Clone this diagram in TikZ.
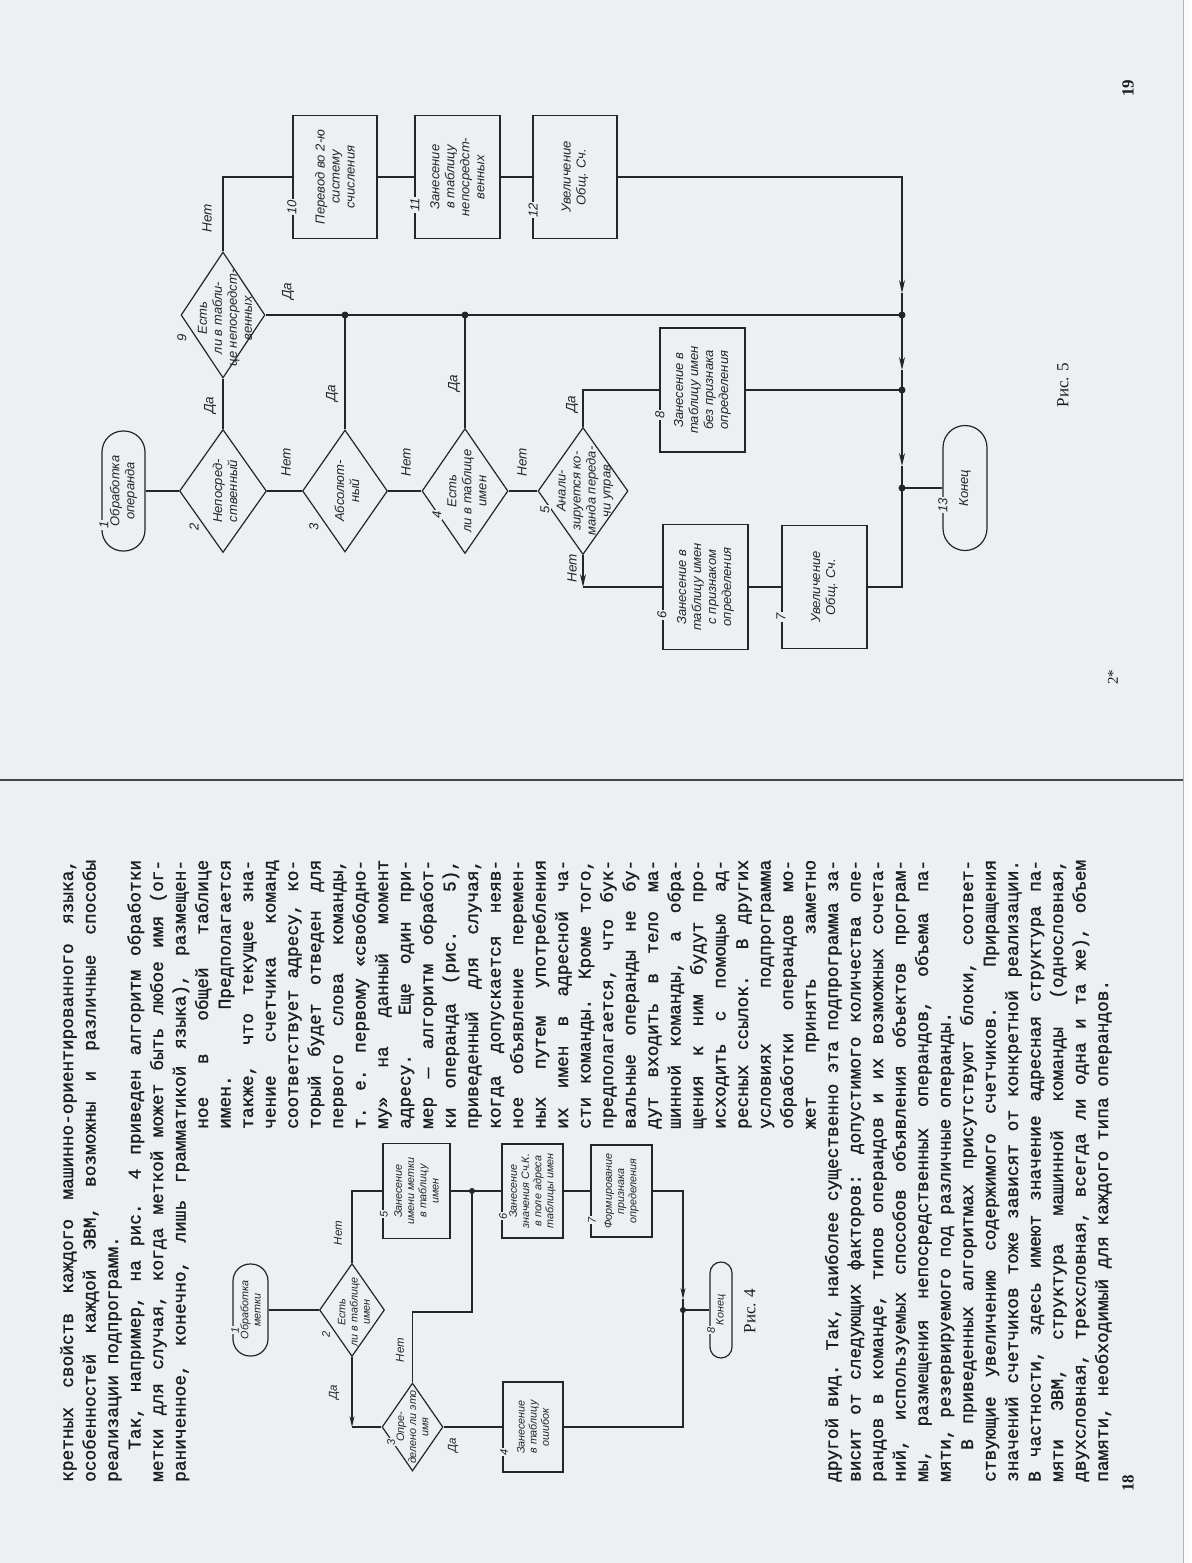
\documentclass[tikz,border=0pt]{standalone}
\usepackage{fontspec}
\setmainfont{Liberation Serif}
\newfontfamily\typewriter[FakeBold=1.3]{Liberation Mono}
\newfontfamily\drafting{Liberation Sans}
\usetikzlibrary{shapes.geometric,arrows.meta}

\definecolor{paper}{RGB}{237,240,242}
\definecolor{ink}{RGB}{36,36,42}
\definecolor{printink}{RGB}{28,28,34}

% one justified typewriter line / last line of a paragraph
\newcommand\jline[1]{\hbox to\linewidth{#1}}
\newcommand\eline[1]{\hbox to\linewidth{#1\hfil}}
\newcommand\bodyfont{\typewriter\fontsize{17.8}{22.5}\selectfont
  \fontdimen3\font=9pt\fontdimen4\font=1.5pt}

\begin{document}
\begin{tikzpicture}[x=1pt,y=-1pt]
\tikzset{
  wire/.style={draw=ink,line width=1.2pt},
  wire4/.style={draw=ink,line width=1.05pt},
  arr5/.style={-{Stealth[length=13pt,width=6pt]}},
  arr4/.style={-{Stealth[length=11pt,width=5pt]}},
  bx/.style 2 args={rotate=90,draw=ink,line width=1.2pt,rectangle,inner sep=0,
    minimum width=#1,minimum height=#2},
  dia/.style 2 args={rotate=90,draw=ink,line width=1.2pt,diamond,inner sep=0,
    minimum width=#1,minimum height=#2},
  txt5/.style={rotate=90,align=center,inner sep=0,text=ink,
    font=\drafting\itshape\fontsize{13}{15}\selectfont},
  txt4/.style={rotate=90,align=center,inner sep=0,text=ink,
    font=\drafting\itshape\fontsize{10.8}{12.2}\selectfont},
  num5/.style={rotate=90,fill=paper,inner sep=1pt,text=ink,
    font=\drafting\itshape\fontsize{13}{14}\selectfont},
  num4/.style={rotate=90,fill=paper,inner sep=1pt,text=ink,
    font=\drafting\itshape\fontsize{11}{12}\selectfont},
  lab5/.style={rotate=90,inner sep=0,text=ink,
    font=\drafting\itshape\fontsize{13.5}{15}\selectfont},
  lab4/.style={rotate=90,inner sep=0,text=ink,
    font=\drafting\itshape\fontsize{11.5}{13}\selectfont},
  body/.style={rotate=90,anchor=base west,inner sep=0,text=printink},
  caption/.style={rotate=90,inner sep=0,text=printink,
    font=\fontsize{17}{20}\selectfont},
}
\useasboundingbox (0,0) rectangle (1191,1563);
\fill[paper] (0,0) rectangle (1191,1563);
% page edge and binding line
\fill[white!75!paper] (1183,0) rectangle (1191,1563);
\draw[ink!35,line width=0.8pt] (1183,0) -- (1183,1563);
\draw[ink!85,line width=2pt] (0,780) -- (1183,780);

% ---------------- page 18: text ----------------
\node[body] (txa) at (73,1482) {\begin{minipage}[t]{622pt}\bodyfont
\jline{кретных свойств каждого машинно-ориентированного языка,}
\jline{особенностей каждой ЭВМ, возможны и различные способы}
\eline{реализации подпрограмм.}
\jline{\kern32pt Так, например, на рис. 4 приведен алгоритм обработки}
\jline{метки для случая, когда меткой может быть любое имя (ог-}
\jline{раниченное, конечно, лишь грамматикой языка), размещен-}
\end{minipage}};

\node[body] (txb) at (208,1129) {\begin{minipage}[t]{269pt}\bodyfont
\jline{ное в общей таблице}
\jline{имен. Предполагается}
\jline{также, что текущее зна-}
\jline{чение счетчика команд}
\jline{соответствует адресу, ко-}
\jline{торый будет отведен для}
\jline{первого слова команды,}
\jline{т. е. первому «свободно-}
\jline{му» на данный момент}
\jline{адресу. Еще один при-}
\jline{мер — алгоритм обработ-}
\jline{ки операнда (рис. 5),}
\jline{приведенный для случая,}
\jline{когда допускается неяв-}
\jline{ное объявление перемен-}
\jline{ных путем употребления}
\jline{их имен в адресной ча-}
\jline{сти команды. Кроме того,}
\jline{предполагается, что бук-}
\jline{вальные операнды не бу-}
\jline{дут входить в тело ма-}
\jline{шинной команды, а обра-}
\jline{щения к ним будут про-}
\jline{исходить с помощью ад-}
\jline{ресных ссылок. В других}
\jline{условиях подпрограмма}
\jline{обработки операндов мо-}
\jline{жет принять заметно}
\end{minipage}};

\node[body] (txc) at (838,1482) {\begin{minipage}[t]{622pt}\bodyfont
\jline{другой вид. Так, наиболее существенно эта подпрограмма за-}
\jline{висит от следующих факторов: допустимого количества опе-}
\jline{рандов в команде, типов операндов и их возможных сочета-}
\jline{ний, используемых способов объявления объектов програм-}
\jline{мы, размещения непосредственных операндов, объема па-}
\eline{мяти, резервируемого под различные операнды.}
\jline{\kern32pt В приведенных алгоритмах присутствуют блоки, соответ-}
\jline{ствующие увеличению содержимого счетчиков. Приращения}
\jline{значений счетчиков тоже зависят от конкретной реализации.}
\jline{В частности, здесь имеют значение адресная структура па-}
\jline{мяти ЭВМ, структура машинной команды (однословная,}
\jline{двухсловная, трехсловная, всегда ли одна и та же), объем}
\eline{памяти, необходимый для каждого типа операндов.}
\end{minipage}};

\node[caption,font=\bfseries\fontsize{17}{20}\selectfont] (pg18) at (1128,1483) {18};

% ---------------- Fig. 4: label processing ----------------
\node[bx={92}{35},rounded corners=17pt] (f1) at (250.5,1310) {};
\node[dia={93}{65}] (f2) at (352,1310) {};
\node[bx={95}{67}] (f5) at (416.5,1191) {};
\node[bx={94}{61}] (f6) at (532.5,1191) {};
\node[bx={92}{61}] (f7) at (621.5,1191) {};
\node[dia={88}{61}] (f3) at (412.5,1427) {};
\node[bx={90}{60}] (f4) at (533,1427) {};
\node[bx={96}{22},rounded corners=11pt] (f8) at (721,1310) {};

\node[txt4] (f1t) at (f1) {Обработка\\метки};
\node[txt4] (f2t) at (354,1312) {Есть\\ли в таблице\\имен};
\node[txt4] (f5t) at (f5) {Занесение\\имени метки\\в таблицу\\имен};
\node[txt4] (f6t) at (f6) {Занесение\\значения Сч.К.\\в поле адреса\\таблицы имен};
\node[txt4] (f7t) at (f7) {Формирование\\признака\\определения};
\node[txt4] (f3t) at (f3) {Опре-\\делено ли это\\имя};
\node[txt4] (f4t) at (f4) {Занесение\\в таблицу\\ошибок};
\node[txt4] (f8t) at (f8) {Конец};

\coordinate (fj1) at (472,1191);
\coordinate (fa1) at (683,1299);
\coordinate (fj2) at (683,1310);
\coordinate (fc3) at (352,1427);
\coordinate (fk2) at (472,1312);

\draw[wire4] (f1.south) -- (f2.north);
\draw[wire4] (f2.east) |- (f5.north);
\draw[wire4] (f5.south) -- (fj1) -- (f6.north);
\draw[wire4] (f6.south) -- (f7.north);
\draw[wire4,arr4] (f7.south) -| (fa1);
\draw[wire4] (fa1) -- (fj2) -- (f8.north);
\draw[wire4,arr4] (f2.west) -- (fc3);
\draw[wire4] (fc3) -- (f3.north);
\draw[wire4] (f3.east) |- (fk2) -- (fj1);
\draw[wire4] (f3.south) -- (f4.north);
\draw[wire4] (f4.south) -| (fj2);
\fill[ink] (fj1) circle (3pt);
\fill[ink] (fj2) circle (3pt);

\node[num4] (fn1) at (235,1330) {1};
\node[num4] (fn2) at (326,1334) {2};
\node[num4] (fn5) at (384,1214) {5};
\node[num4] (fn6) at (503,1216) {6};
\node[num4] (fn7) at (592,1220) {7};
\node[num4] (fn3) at (391,1442) {3};
\node[num4] (fn4) at (504,1452) {4};
\node[num4] (fn8) at (711,1330) {8};

\node[lab4] (fl1) at (338,1233) {Нет};
\node[lab4] (fl2) at (334,1392) {Да};
\node[lab4] (fl3) at (400,1350) {Нет};
\node[lab4] (fl4) at (453,1445) {Да};

\node[caption] (cap4) at (750,1311) {Рис. 4};

% ---------------- Fig. 5: operand processing ----------------
\node[bx={120}{43},rounded corners=21pt] (t1) at (123.5,491) {};
\node[dia={123}{87}] (d2) at (223,491) {};
\node[dia={122}{85}] (d3) at (345,491) {};
\node[dia={125}{86}] (d4) at (465,491) {};
\node[dia={127}{90}] (d5) at (583,491) {};
\node[dia={126}{84}] (d9) at (223,315) {};
\node[bx={123}{84}] (b10) at (335,177) {};
\node[bx={123}{85}] (b11) at (457.5,177) {};
\node[bx={123}{84}] (b12) at (575,177) {};
\node[bx={124}{85}] (b8) at (702.5,390) {};
\node[bx={125}{85}] (b6) at (705.5,587) {};
\node[bx={123}{85}] (b7) at (824.5,587) {};
\node[bx={125}{44},rounded corners=22pt] (t13) at (965,488) {};

\node[txt5] (t1t) at (t1) {Обработка\\операнда};
\node[txt5] (d2t) at (225,491) {Непосред-\\ственный};
\node[txt5] (d3t) at (347,491) {Абсолют-\\ный};
\node[txt5] (d4t) at (467,491) {Есть\\ли в таблице\\имен};
\node[txt5] (d5t) at (585,491) {Анали-\\зируется ко-\\манда переда-\\чи управ};
\node[txt5] (d9t) at (225,318) {Есть\\ли в табли-\\це непосредст-\\венных};
\node[txt5] (b10t) at (b10) {Перевод во 2-ю\\систему\\счисления};
\node[txt5] (b11t) at (b11) {Занесение\\в таблицу\\непосредст-\\венных};
\node[txt5] (b12t) at (b12) {Увеличение\\Общ. Сч.};
\node[txt5] (b8t) at (b8) {Занесение в\\таблицу имен\\без признака\\определения};
\node[txt5] (b6t) at (b6) {Занесение в\\таблицу имен\\с признаком\\определения};
\node[txt5] (b7t) at (b7) {Увеличение\\Общ. Сч.};
\node[txt5] (t13t) at (t13) {Конец};

\coordinate (j1) at (345,315);
\coordinate (j2) at (465,315);
\coordinate (j3) at (902,315);
\coordinate (j4) at (902,390);
\coordinate (j5) at (902,488);
\coordinate (a1) at (902,293);
\coordinate (a2) at (902,370);
\coordinate (a3) at (902,466);
\coordinate (c6) at (583,587);

\draw[wire] (t1.south) -- (d2.north);
\draw[wire] (d2.south) -- (d3.north);
\draw[wire] (d3.south) -- (d4.north);
\draw[wire] (d4.south) -- (d5.north);
\draw[wire] (d2.east) -- (d9.west);
\draw[wire] (d9.east) |- (b10.north);
\draw[wire] (b10.south) -- (b11.north);
\draw[wire] (b11.south) -- (b12.north);
\draw[wire,arr5] (b12.south) -| (a1);
\draw[wire,arr5] (a1) -- (a2);
\draw[wire,arr5] (a2) -- (a3);
\draw[wire] (a3) -- (j5) -- (t13.north);
\draw[wire] (d9.south) -- (j1) -- (j2) -- (j3);
\draw[wire] (d3.east) -- (j1);
\draw[wire] (d4.east) -- (j2);
\draw[wire] (d5.east) |- (b8.north);
\draw[wire] (b8.south) -- (j4);
\draw[wire,arr5] (d5.west) -- (c6);
\draw[wire] (c6) -- (b6.north);
\draw[wire] (b6.south) -- (b7.north);
\draw[wire] (b7.south) -| (j5);
\foreach \j in {j1,j2,j3,j4,j5} \fill[ink] (\j) circle (3.5pt);

\node[num5] (n1) at (104,525) {1};
\node[num5] (n2) at (194,527) {2};
\node[num5] (n3) at (314,527) {3};
\node[num5] (n4) at (437,515) {4};
\node[num5] (n5) at (545,510) {5};
\node[num5] (n9) at (182,338) {9};
\node[num5] (n10) at (292,207) {10};
\node[num5] (n11) at (415,205) {11};
\node[num5] (n12) at (533,210) {12};
\node[num5] (n8) at (660,415) {8};
\node[num5] (n6) at (662,615) {6};
\node[num5] (n7) at (781,617) {7};
\node[num5] (n13) at (943,505) {13};

\node[lab5] (l1) at (210,405) {Да};
\node[lab5] (l2) at (207,218) {Нет};
\node[lab5] (l3) at (288,291) {Да};
\node[lab5] (l4) at (332,393) {Да};
\node[lab5] (l5) at (286,462) {Нет};
\node[lab5] (l6) at (406,462) {Нет};
\node[lab5] (l7) at (454,383) {Да};
\node[lab5] (l8) at (522,462) {Нет};
\node[lab5] (l9) at (572,404) {Да};
\node[lab5] (l10) at (572,568) {Нет};

\node[caption] (cap5) at (1063,385) {Рис. 5};
\node[caption,font=\fontsize{15}{18}\selectfont] (sig) at (1113,677) {2*};
\node[caption,font=\bfseries\fontsize{17}{20}\selectfont] (pg19) at (1128,88) {19};
\end{tikzpicture}
\end{document}
